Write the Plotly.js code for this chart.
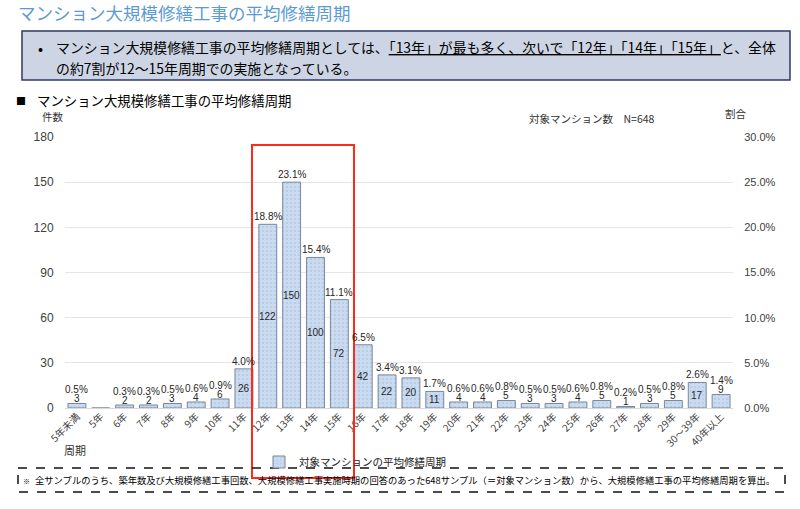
<!DOCTYPE html>
<html><head><meta charset="utf-8">
<script src="https://cdn.plot.ly/plotly-3.0.1.min.js"></script>
<style>html,body{margin:0;padding:0;background:#fff}#chart{width:800px;height:509px}</style>
</head><body><div id="chart"></div>
<script>
const categories = ['5年未満','5年','6年','7年','8年','9年','10年','11年','12年','13年','14年','15年','16年','17年','18年','19年','20年','21年','22年','23年','24年','25年','26年','27年','28年','29年','30～39年','40年以上'];
const counts = [3,0,2,2,3,4,6,26,122,150,100,72,42,22,20,11,4,4,5,3,3,4,5,1,3,5,17,9];
const shares = [0.5,null,0.3,0.3,0.5,0.6,0.9,4.0,18.8,23.1,15.4,11.1,6.5,3.4,3.1,1.7,0.6,0.6,0.8,0.5,0.5,0.6,0.8,0.2,0.5,0.8,2.6,1.4];
const seriesName = '対象マンションの平均修繕周期';
const yTicks = [0,30,60,90,120,150,180];

const W=800,H=509, L=65, R=733, T=137, B=408;
const px = x => (x-L)/(R-L);
const py = y => (B-y)/(B-T);
const NUMF = 'Liberation Sans, Arial, Noto Sans CJK JP, sans-serif';
const JPF = 'Noto Sans CJK JP, sans-serif';

const bar = {
  type:'bar', x:categories, y:counts, name:seriesName,
  marker:{color:'#c6d9f0', line:{color:'#7a8699', width:1},
    pattern:{shape:'.', fgcolor:'#aebfd8', bgcolor:'#c9dbf1', size:4, solidity:0.15}},
  hoverinfo:'x+y'
};
const pctTrace = {
  type:'scatter', mode:'markers', x:categories, y:shares.map(v=>v==null?null:v/100),
  yaxis:'y2', marker:{opacity:0, size:1}, showlegend:false, hoverinfo:'skip'
};

const annotations = [];
categories.forEach((c,i)=>{
  const v = counts[i];
  if (!v) return;
  const big = v >= 10;
  annotations.push({x:c, y: big ? v/2 : v, xref:'x', yref:'y', text:String(v), showarrow:false,
    yanchor: big?'middle':'bottom', yshift: big?0:-3, font:{family:NUMF,size:10,color:'#262626'}});
  if (shares[i]!=null) annotations.push({x:c, y:v, xref:'x', yref:'y', text:shares[i].toFixed(1)+'%', showarrow:false,
    yanchor:'bottom', yshift: big?0:6, font:{family:NUMF,size:10,color:'#262626'}});
});
const txt = (x,y,text,size,opts={}) => Object.assign({x:px(x), y:py(y), xref:'paper', yref:'paper', text, showarrow:false,
  xanchor:'left', yanchor:'middle', font:{family:JPF, size, color:'#000'}}, opts);
annotations.push(
  txt(36,47,'•',15),
  txt(54,47,'マンション大規模修繕工事の平均修繕周期としては、<u>「13年」が最も多く、次いで「12年」「14年」「15年」</u>と、全体',13.9),
  txt(54,68,'の約7割が12～15年周期での実施となっている。',13.9),
  txt(14,100,'■',10),
  txt(35,100,'マンション大規模修繕工事の平均修繕周期',13.4),
  txt(40,117,'件数',10.5,{font:{family:JPF,size:10.5,color:'#333'}}),
  txt(527,118,'対象マンション数　N=648',10.5,{font:{family:JPF,size:10.5,color:'#333'}}),
  txt(723,113,'割合',10.5,{font:{family:JPF,size:10.5,color:'#333'}}),
  txt(62,450,'周期',11,{font:{family:JPF,size:11,color:'#333'}}),
  txt(21,481,'※',7),
  txt(33,480,'全サンプルのうち、築年数及び大規模修繕工事回数、大規模修繕工事実施時期の回答のあった648サンプル（＝対象マンション数）から、大規模修繕工事の平均修繕周期を算出。',9.3)
);

const shapes = [
  {type:'rect', xref:'paper', yref:'paper', x0:px(22), x1:px(790), y0:py(31), y1:py(80), fillcolor:'#cdd5e4', line:{color:'#2d3b66', width:1.5}, layer:'below'},
  {type:'rect', xref:'paper', yref:'paper', x0:px(252), x1:px(354), y0:py(145), y1:py(478), line:{color:'#ff2a1a', width:2}},
  {type:'rect', xref:'paper', yref:'paper', x0:px(18), x1:px(785), y0:py(468), y1:py(492), line:{color:'#111', width:1.5, dash:'dash'}}
];

const layout = {
  width:W, height:H,
  margin:{l:L, r:W-R, t:T, b:H-B, pad:0},
  paper_bgcolor:'#fff', plot_bgcolor:'#fff',
  font:{family:JPF, color:'#333'},
  title:{text:'マンション大規模修繕工事の平均修繕周期', x:18/W, xref:'container', xanchor:'left', y:1-14/H, yref:'container', yanchor:'middle',
    font:{family:JPF, size:17.5, color:'#5b9bd5'}},
  bargap:0.25,
  xaxis:{type:'category', range:[-0.5, categories.length-0.5], tickangle:-45, tickfont:{family:JPF,size:10,color:'#404040'}, showgrid:false, showline:false, ticks:'', automargin:false, fixedrange:true},
  yaxis:{range:[0,180], tickvals:yTicks, tickfont:{family:NUMF,size:12,color:'#404040'}, gridcolor:'#e6e6e6', gridwidth:1,
    zeroline:true, zerolinecolor:'#d9d9d9', ticks:'outside', ticklen:8, tickcolor:'rgba(0,0,0,0)', automargin:false, fixedrange:true},
  yaxis2:{range:[0,0.3], dtick:0.05, tickformat:'.1%', overlaying:'y', side:'right', showgrid:false, zeroline:false,
    tickfont:{family:NUMF,size:11,color:'#404040'}, ticks:'outside', ticklen:8, tickcolor:'rgba(0,0,0,0)', automargin:false, fixedrange:true},
  showlegend:true,
  legend:{orientation:'h', x:px(355), xanchor:'center', y:py(462), yanchor:'middle', font:{family:JPF,size:10.5,color:'#222'}, bgcolor:'rgba(0,0,0,0)', itemwidth:30},
  annotations, shapes
};
Plotly.newPlot('chart',[bar,pctTrace],layout,{displayModeBar:false,staticPlot:true});
</script></body></html>
